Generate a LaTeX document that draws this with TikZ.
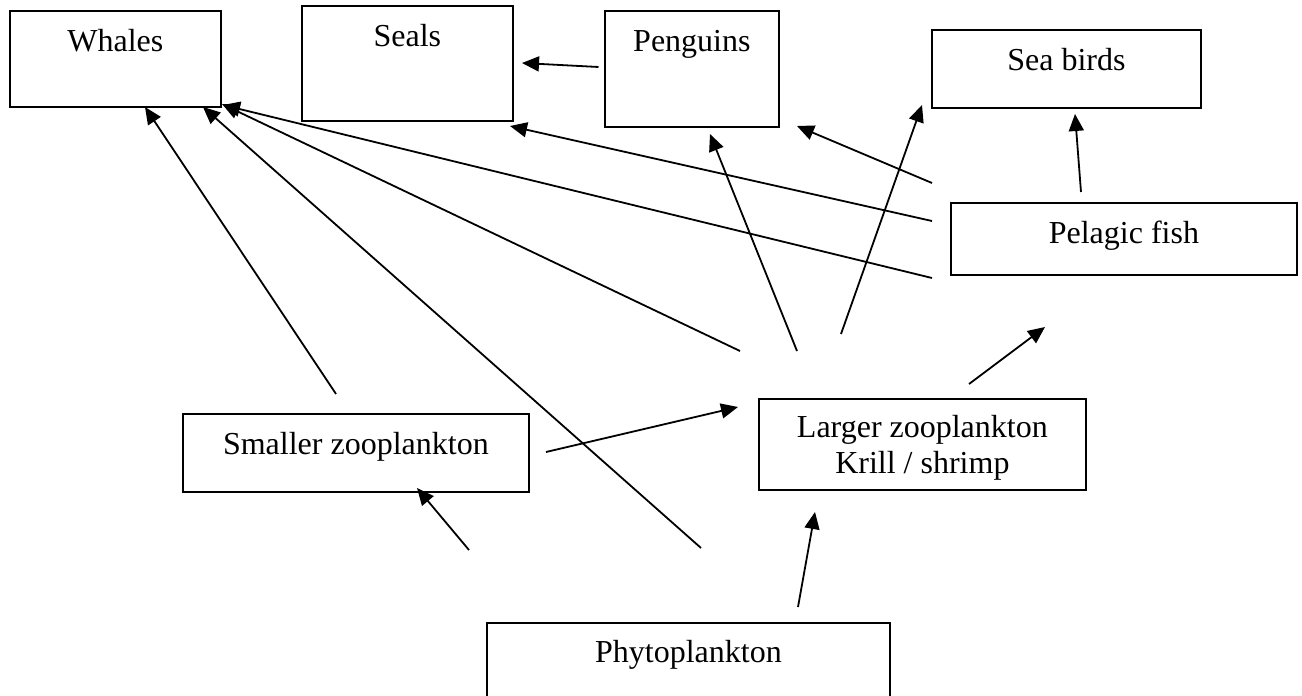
\documentclass[tikz,border=0pt]{standalone}
\usepackage{fontspec}
\setmainfont{Liberation Serif}
\usetikzlibrary{arrows.meta}
\begin{document}
\begin{tikzpicture}[x=1pt,y=-1pt,
  box/.style={draw, line width=1.8pt, inner sep=0pt, anchor=north west,
    font=\fontsize{32}{36}\selectfont},
  arr/.style={line width=1.8pt, -{Triangle[length=17pt,width=15pt]}}]
\useasboundingbox (0,0) rectangle (1302,696);
% boxes (text height = top to baseline, text depth = baseline to bottom)
\node[box, minimum width=211pt, text height=41pt, text depth=55pt] (whales) at (9,10) {Whales};
\node[box, minimum width=211pt, text height=41pt, text depth=74pt] (seals) at (301,5) {Seals};
\node[box, minimum width=174pt, text height=41pt, text depth=75pt] (penguins) at (604,10) {Penguins};
\node[box, minimum width=269pt, text height=41pt, text depth=37pt] (seabirds) at (931,29) {Sea birds};
\node[box, minimum width=346pt, text height=41pt, text depth=31pt] (pelagic) at (950,202) {Pelagic fish};
\node[box, minimum width=346pt, text height=41pt, text depth=37pt] (smaller) at (182,413) {Smaller zooplankton};
\node[box, minimum width=327pt, text height=39pt, text depth=52pt] (larger) at (758,398)
  {\begin{tabular}[t]{@{}c@{}}Larger zooplankton\\Krill / shrimp\end{tabular}};
\node[box, minimum width=403pt, text height=40pt, text depth=37pt] (phyto) at (486,622) {Phytoplankton};
% free arrow end points
\coordinate (penS) at (598.5,67);   \coordinate (sealT1) at (522,63);
\coordinate (smlS) at (336,394);    \coordinate (whT1) at (145,107);
\coordinate (phyS1) at (701,548);   \coordinate (whT2) at (203,107);
\coordinate (lrgS1) at (740,351);   \coordinate (whT3) at (222,104);
\coordinate (pelS1) at (932,278);   \coordinate (whT4) at (223,105);
\coordinate (pelS2) at (932,221);   \coordinate (sealT2) at (510,126);
\coordinate (pelS3) at (932,183);   \coordinate (penT1) at (797,126);
\coordinate (lrgS2) at (797,351);   \coordinate (penT2) at (710,134);
\coordinate (lrgS3) at (841,334);   \coordinate (sbT1) at (922,105);
\coordinate (pelS4) at (1081,192);  \coordinate (sbT2) at (1075,114);
\coordinate (lrgS4) at (969,384);   \coordinate (pelT) at (1045,327);
\coordinate (smlS2) at (546,452);   \coordinate (lrgT1) at (738,407);
\coordinate (phyS2) at (469,550);   \coordinate (smlT) at (417,488);
\coordinate (phyS3) at (798,607);   \coordinate (lrgT2) at (815,512);
% arrows
\draw[arr] (penS) -- (sealT1);
\draw[arr] (smlS) -- (whT1);
\draw[arr] (phyS1) -- (whT2);
\draw[arr] (lrgS1) -- (whT3);
\draw[arr] (pelS1) -- (whT4);
\draw[arr] (pelS2) -- (sealT2);
\draw[arr] (pelS3) -- (penT1);
\draw[arr] (lrgS2) -- (penT2);
\draw[arr] (lrgS3) -- (sbT1);
\draw[arr] (pelS4) -- (sbT2);
\draw[arr] (lrgS4) -- (pelT);
\draw[arr] (smlS2) -- (lrgT1);
\draw[arr] (phyS2) -- (smlT);
\draw[arr] (phyS3) -- (lrgT2);
\end{tikzpicture}
\end{document}
